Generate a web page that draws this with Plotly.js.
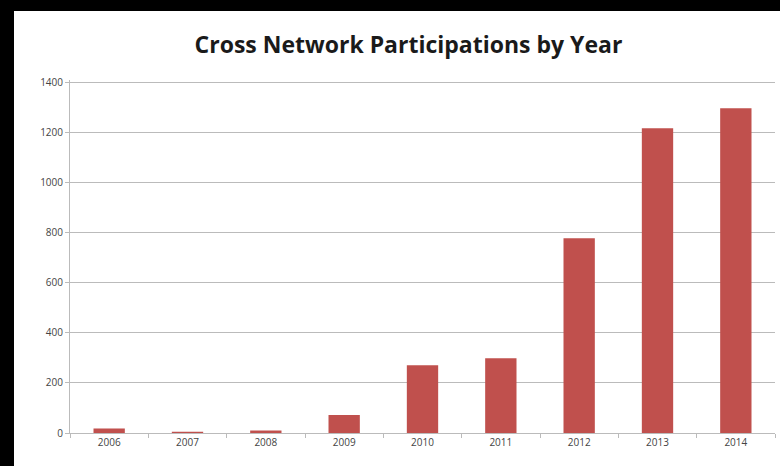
<!DOCTYPE html>
<html>
<head>
<meta charset="utf-8">
<script src="https://cdn.plot.ly/plotly-3.0.1.min.js"></script>
<style>
html,body{margin:0;padding:0;background:#000;width:780px;height:466px;overflow:hidden;}
#chart{position:absolute;left:14px;top:11px;width:766px;height:455px;}
</style>
</head>
<body>
<div id="chart"></div>
<script>
const years = ["2006","2007","2008","2009","2010","2011","2012","2013","2014"];
const participations = [18, 5, 10, 72, 271, 299, 778, 1217, 1297];
const yTicks = [0, 200, 400, 600, 800, 1000, 1200, 1400];

Plotly.newPlot('chart', [{
  type: 'bar',
  x: years,
  y: participations,
  marker: {color: '#c0504d'},
  hoverinfo: 'x+y'
}], {
  width: 766, height: 455,
  margin: {l: 56, r: 5, t: 69, b: 33},
  paper_bgcolor: '#ffffff',
  plot_bgcolor: '#ffffff',
  bargap: 0.6,
  title: {text: 'Cross Network Participations by Year', x: 0.515, xanchor: 'center', y: 0.925, yanchor: 'middle',
          font: {family: 'Open Sans', size: 23, color: '#1a1a1a', weight: 700}},
  xaxis: {type: 'category', showgrid: false, showline: true, linecolor: '#bbbbbb', linewidth: 1,
          ticks: 'outside', ticklen: 4, tickcolor: '#bbbbbb', tickson: 'boundaries',
          tickfont: {family: 'Open Sans', size: 10, color: '#444'}},
  yaxis: {range: [0, 1410], tickvals: yTicks, showgrid: true, gridcolor: '#bbbbbb', gridwidth: 1,
          showline: true, linecolor: '#bbbbbb', ticks: 'outside', ticklen: 4, tickcolor: '#bbbbbb',
          zeroline: false, tickfont: {family: 'Open Sans', size: 10, color: '#444'}},
  showlegend: false
}, {displayModeBar: false, staticPlot: true});
</script>
</body>
</html>
